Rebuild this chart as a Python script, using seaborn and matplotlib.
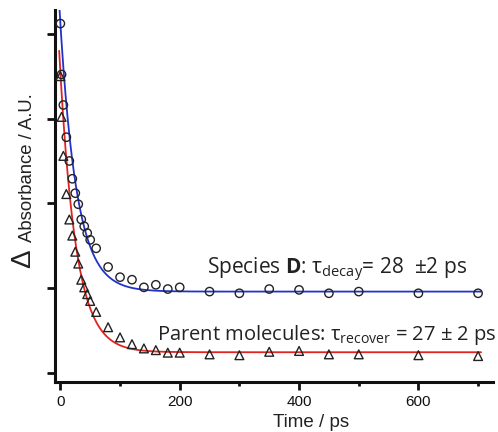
import numpy as np
import pandas as pd
import matplotlib
matplotlib.use("Agg")
import matplotlib.pyplot as plt
import seaborn as sns

# Delay times (ps) shared by both transients
time_ps = [0, 2, 5, 10, 15, 20, 25, 30, 35, 40, 45, 50, 60, 80, 100, 120,
           140, 160, 180, 200, 250, 300, 350, 400, 450, 500, 600, 700]

# Species D absorbance (open circles)
species_d = [4.12, 3.52, 3.16, 2.78, 2.50, 2.29, 2.12, 1.99, 1.81, 1.73,
             1.65, 1.57, 1.47, 1.25, 1.13, 1.10, 1.01, 1.04, 0.99, 1.01,
             0.96, 0.94, 0.99, 0.98, 0.94, 0.96, 0.94, 0.94]

# Parent molecule bleach recovery (open triangles)
parent = [3.50, 3.02, 2.56, 2.11, 1.81, 1.62, 1.43, 1.29, 1.10, 1.01,
          0.93, 0.85, 0.72, 0.54, 0.42, 0.34, 0.29, 0.27, 0.24, 0.24,
          0.22, 0.21, 0.25, 0.26, 0.22, 0.22, 0.21, 0.20]

# Single-exponential fit parameters: amplitude, time constant (ps), offset
fit_d = (3.16, 28.0, 0.96)
fit_parent = (3.30, 27.0, 0.245)

x_ticks = [0, 200, 400, 600]
x_minor = [100, 300, 500, 700]
y_ticks = [0, 1, 2, 3, 4]

AXFONT = ["Liberation Sans", "DejaVu Sans"]
ANNFONT = ["Open Sans", "DejaVu Sans"]

sns.set_theme(style="ticks")
plt.rcParams["font.family"] = AXFONT
plt.rcParams["mathtext.fontset"] = "custom"
plt.rcParams["mathtext.rm"] = "Open Sans"
plt.rcParams["mathtext.bf"] = "Open Sans:bold"
plt.rcParams["mathtext.it"] = "Open Sans:italic"

fig = plt.figure(figsize=(4.98, 4.32), dpi=100)
ax = fig.add_axes([55 / 498, 1 - 382 / 432, (493 - 55) / 498, (382 - 10) / 432])

df = pd.DataFrame({"t": time_ps, "d": species_d, "p": parent})

t_fit = np.linspace(-2, 705, 600)
fit_df = pd.DataFrame({
    "t": t_fit,
    "d": fit_d[0] * np.exp(-t_fit / fit_d[1]) + fit_d[2],
    "p": fit_parent[0] * np.exp(-t_fit / fit_parent[1]) + fit_parent[2],
})

sns.lineplot(data=fit_df, x="t", y="p", color="#e3231f", linewidth=1.3, ax=ax)
sns.lineplot(data=fit_df, x="t", y="d", color="#2233cc", linewidth=1.3, ax=ax)
sns.scatterplot(data=df, x="t", y="d", marker="o", s=36, facecolor="none",
                edgecolor="#222222", linewidth=1.0, ax=ax, zorder=3)
sns.scatterplot(data=df, x="t", y="p", marker="^", s=40, facecolor="none",
                edgecolor="#222222", linewidth=1.0, ax=ax, zorder=3)

ax.set_xlim(-9, 725)
ax.set_ylim(-0.106, 4.28)
ax.set_xticks(x_ticks)
ax.set_xticks(x_minor, minor=True)
ax.set_xticklabels([str(v) for v in x_ticks], family=AXFONT, fontsize=11,
                   color="#222222")
ax.set_yticks(y_ticks)
ax.set_yticklabels([])
ax.tick_params(axis="x", which="major", length=6, width=2.0,
               pad=3, direction="out", colors="#111111")
ax.tick_params(axis="x", which="minor", length=3, width=2.0, direction="out",
               colors="#111111")
ax.tick_params(axis="y", which="major", length=6, width=2.0, direction="out",
               colors="#111111")
for side in ("top", "right"):
    ax.spines[side].set_visible(False)
for side in ("left", "bottom"):
    ax.spines[side].set_linewidth(2.2)
    ax.spines[side].set_color("#111111")

ax.set_xlabel("Time / ps", fontsize=13.5, family=AXFONT, color="#222222")
ax.xaxis.set_label_coords(0.584, -0.085)
ax.set_ylabel("")

fig.text(27.5 / 498, 1 - 168 / 432, "Absorbance / A.U.", rotation=90,
         ha="center", va="center", fontsize=13.3, family=AXFONT,
         color="#222222")
fig.text(23 / 498, 1 - 258.5 / 432, "Δ", rotation=90, ha="center",
         va="center", fontsize=20, family=AXFONT, color="#222222")

ax.text(246, 1.16, r"Species $\mathbf{D}$: τ$_{\mathrm{decay}}$= 28  ±2 ps",
        fontsize=15, family=ANNFONT, ha="left", va="baseline",
        color="#222222")
ax.text(162, 0.39, r"Parent molecules: τ$_{\mathrm{recover}}$ = 27 ± 2 ps",
        fontsize=14.5, family=ANNFONT, ha="left", va="baseline",
        color="#222222")

fig.savefig("out.png", dpi=100)
